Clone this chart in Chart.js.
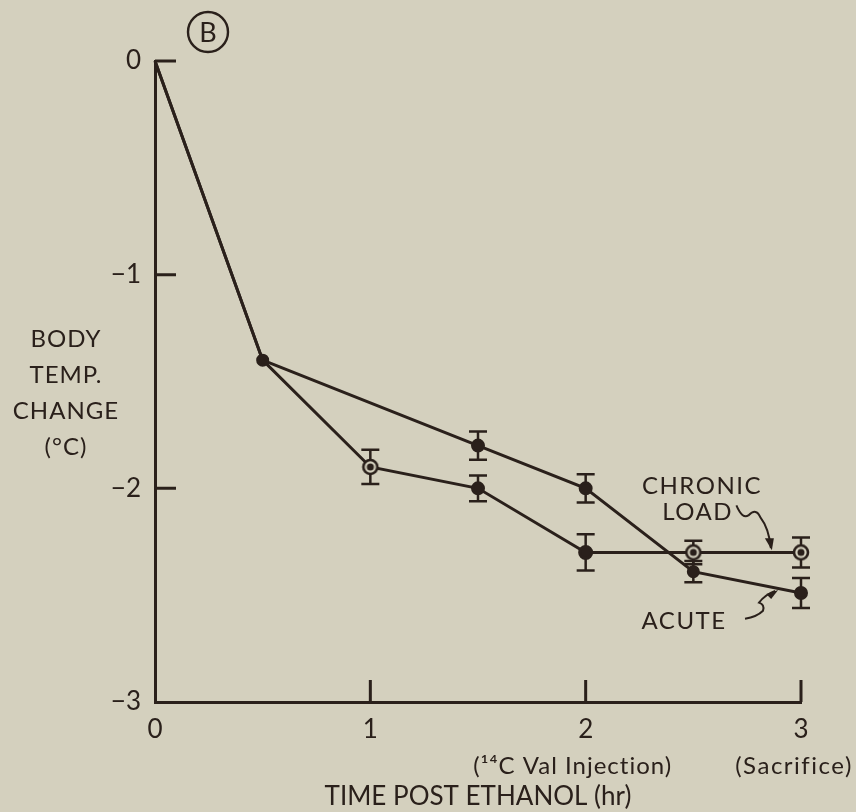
<!DOCTYPE html>
<html>
<head>
<meta charset="utf-8">
<script src="https://cdn.jsdelivr.net/npm/chart.js@4.4.1/dist/chart.umd.min.js"></script>
<style>
  html, body { margin: 0; padding: 0; background: #d4d0be; }
  #wrap { width: 856px; height: 812px; }
</style>
</head>
<body>
<div id="wrap"><canvas id="tempChart" width="856" height="812"></canvas></div>
<script>
// body temperature change after ethanol, two groups
const hours = [0, 0.5, 1, 1.5, 2, 2.5, 3];
const chronicLoad = [0, -1.4, -1.9, -2.0, -2.3, -2.3, -2.3];
const chronicErr = [0, 0, 0.08, 0.06, 0.085, 0.055, 0.07];

const acuteHours = [0, 0.5, 1.5, 2, 2.5, 3];
const acute = [0, -1.4, -1.8, -2.0, -2.39, -2.49];
const acuteErr = [0, 0, 0.066, 0.066, 0.05, 0.07];

const yTicks = [0, -1, -2, -3];
const xTicks = [0, 1, 2, 3];
const yTitle = ['BODY', 'TEMP.', 'CHANGE', '(°C)'];
const xTitle = 'TIME POST ETHANOL (hr)';
const xNotes = ['(¹⁴C Val Injection)', '(Sacrifice)'];

const INK = '#2a201b';
const PAPER = '#d4d0be';
const FONT = 'Lato, "DejaVu Sans", sans-serif';

// open circle with a dot in the middle
function ringDot(r) {
    const c = document.createElement('canvas');
    const s = 2 * r + 6;
    c.width = s; c.height = s;
    const g = c.getContext('2d');
    g.beginPath();
    g.arc(s / 2, s / 2, r, 0, Math.PI * 2);
    g.fillStyle = PAPER;
    g.fill();
    g.lineWidth = 2.6;
    g.strokeStyle = INK;
    g.stroke();
    g.beginPath();
    g.arc(s / 2, s / 2, 3.5, 0, Math.PI * 2);
    g.fillStyle = INK;
    g.fill();
    return c;
}
const ring = ringDot(7);

const errorBars = {
    id: 'errorBars',
    beforeDatasetsDraw(chart) {
        const { ctx, scales: { x, y } } = chart;
        const sets = [[hours, chronicLoad, chronicErr], [acuteHours, acute, acuteErr]];
        ctx.save();
        ctx.strokeStyle = INK;
        ctx.lineWidth = 2.5;
        sets.forEach(([xs, ys, es]) => {
            xs.forEach((h, i) => {
                if (!es[i]) return;
                const px = x.getPixelForValue(h);
                const top = y.getPixelForValue(ys[i] + es[i]);
                const bot = y.getPixelForValue(ys[i] - es[i]);
                ctx.beginPath();
                ctx.moveTo(px, top); ctx.lineTo(px, bot);
                ctx.moveTo(px - 9, top); ctx.lineTo(px + 9, top);
                ctx.moveTo(px - 9, bot); ctx.lineTo(px + 9, bot);
                ctx.stroke();
            });
        });
        ctx.restore();
    }
};

const decorations = {
    id: 'decorations',
    afterDraw(chart) {
        const { ctx, chartArea, scales: { x, y } } = chart;
        ctx.save();
        ctx.strokeStyle = INK;
        ctx.fillStyle = INK;
        ctx.lineWidth = 3;

        // inward tick marks
        ctx.beginPath();
        yTicks.slice(0, 3).forEach(v => {
            const py = y.getPixelForValue(v);
            ctx.moveTo(chartArea.left, py); ctx.lineTo(chartArea.left + 21, py);
        });
        xTicks.slice(1).forEach(v => {
            const px = x.getPixelForValue(v);
            ctx.moveTo(px, chartArea.bottom); ctx.lineTo(px, chartArea.bottom - 22);
        });
        ctx.stroke();

        // y axis caption, stacked horizontally
        ctx.font = '24px ' + FONT;
        ctx.letterSpacing = '1px';
        ctx.textAlign = 'center';
        ctx.textBaseline = 'middle';
        yTitle.forEach((t, i) => ctx.fillText(t, 66, 339 + i * 36));

        // notes under the x axis
        ctx.font = '24px ' + FONT;
        ctx.letterSpacing = '1px';
        ctx.fillText(xNotes[0], x.getPixelForValue(2) - 13, 766);
        ctx.letterSpacing = '1.5px';
        ctx.fillText(xNotes[1], x.getPixelForValue(3) - 7, 766);

        // series captions
        ctx.font = '24px ' + FONT;
        ctx.letterSpacing = '1.5px';
        ctx.fillText('CHRONIC', x.getPixelForValue(2.54), y.getPixelForValue(-1.99));
        ctx.fillText('LOAD', x.getPixelForValue(2.52), y.getPixelForValue(-2.11));
        ctx.fillText('ACUTE', x.getPixelForValue(2.457), y.getPixelForValue(-2.62));
        ctx.letterSpacing = '0px';

        // squiggly pointers
        ctx.lineWidth = 2;
        let p = (h, v) => [x.getPixelForValue(h), y.getPixelForValue(v)];
        let [ax, ay] = p(2.70, -2.08);
        let [bx, by] = p(2.86, -2.28);
        ctx.beginPath();
        ctx.moveTo(ax, ay);
        ctx.quadraticCurveTo(ax + 6, ay + 14, ax + 12, ay + 10);
        ctx.quadraticCurveTo(ax + 20, ay + 2, ax + 24, ay + 12);
        ctx.quadraticCurveTo(bx - 2, by - 20, bx, by);
        ctx.stroke();
        ctx.beginPath();
        ctx.moveTo(bx + 1, by + 2); ctx.lineTo(bx - 6, by - 10); ctx.lineTo(bx + 3, by - 10);
        ctx.closePath(); ctx.fill();

        [ax, ay] = p(2.74, -2.61);
        [bx, by] = p(2.88, -2.48);
        ctx.beginPath();
        ctx.moveTo(ax, ay);
        ctx.quadraticCurveTo(ax + 12, ay - 2, ax + 18, ay - 8);
        ctx.quadraticCurveTo(ax + 20, ay - 14, ax + 14, ay - 16);
        ctx.quadraticCurveTo(ax + 20, ay - 24, bx, by);
        ctx.stroke();
        ctx.beginPath();
        ctx.moveTo(bx + 3, by - 1); ctx.lineTo(bx - 9, by + 3); ctx.lineTo(bx - 4, by + 8);
        ctx.closePath(); ctx.fill();

        // panel letter
        ctx.lineWidth = 2.4;
        ctx.beginPath();
        ctx.arc(208, 32, 20, 0, Math.PI * 2);
        ctx.stroke();
        ctx.font = '27px ' + FONT;
        ctx.fillText('B', 208, 33);
        ctx.restore();
    }
};

const minus = v => (v < 0 ? '\u2212' + Math.abs(v) : String(v));

new Chart(document.getElementById('tempChart'), {
    type: 'line',
    data: {
        datasets: [{
            label: 'Chronic load',
            data: hours.map((h, i) => ({ x: h, y: chronicLoad[i] })),
            borderColor: INK,
            backgroundColor: INK,
            borderWidth: 3,
            tension: 0,
            clip: false,
            pointStyle: [false, 'circle', ring, 'circle', 'circle', ring, ring],
            pointRadius: [0, 0, 7, 5.5, 6, 7, 7]
        }, {
            label: 'Acute',
            data: acuteHours.map((h, i) => ({ x: h, y: acute[i] })),
            borderColor: INK,
            backgroundColor: INK,
            borderWidth: 3,
            tension: 0,
            clip: false,
            pointStyle: 'circle',
            pointRadius: [0, 5, 5.5, 5.5, 5, 5.5]
        }]
    },
    options: {
        responsive: false,
        animation: false,
        layout: { padding: { top: 61, right: 55, left: 0, bottom: 0 } },
        plugins: {
            legend: { display: false },
            tooltip: { enabled: false }
        },
        scales: {
            x: {
                type: 'linear',
                min: 0,
                max: 3,
                afterFit: s => { s.height = 110; },
                afterBuildTicks: s => { s.ticks = xTicks.map(v => ({ value: v })); },
                grid: { display: false },
                border: { display: true, color: INK, width: 3 },
                ticks: { color: INK, padding: 4, font: { family: FONT, size: 26 }, maxRotation: 0, callback: minus },
                title: { display: true, text: xTitle, color: INK, padding: { top: 0, bottom: 0 }, font: { family: FONT, size: 26 } }
            },
            y: {
                min: -3,
                max: 0,
                afterFit: s => { s.width = 155; },
                afterBuildTicks: s => { s.ticks = yTicks.map(v => ({ value: v })); },
                grid: { display: false },
                border: { display: true, color: INK, width: 3 },
                ticks: { color: INK, padding: 6, font: { family: FONT, size: 26 }, callback: minus }
            }
        }
    },
    plugins: [errorBars, decorations]
});
</script>
</body>
</html>
